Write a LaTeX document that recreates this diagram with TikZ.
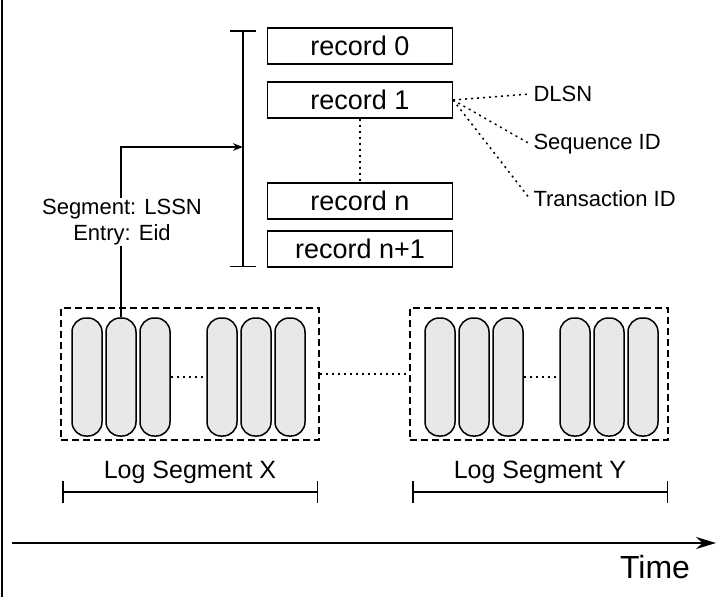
\documentclass[tikz,border=0pt]{standalone}
\usepackage{fontspec}
\setmainfont{Liberation Sans}
\usetikzlibrary{arrows.meta,positioning}
\tikzset{
  rec/.style={draw, line width=1.2pt, minimum width=185pt, minimum height=36pt, inner sep=0pt, font=\fontsize{27}{30}\selectfont},
  capsule/.style={draw, line width=1.5pt, fill=black!9, rounded corners=14pt, minimum width=30pt, minimum height=118pt, inner sep=0pt},
  seg/.style={draw, line width=1.5pt, dash pattern=on 7pt off 4pt},
  lbl/.style={font=\fontsize{22}{26}\selectfont},
  dots/.style={line width=1.5pt, dash pattern=on 2pt off 4pt},
  bar/.style={line width=1.5pt, {Bar[width=22pt]}-{Bar[width=22pt]}},
}
\begin{document}
\begin{tikzpicture}[x=1pt,y=-1pt]
  \useasboundingbox (0,0) rectangle (720,597);
  \draw[line width=1.5pt] (2,0) -- (2,597);
  % records
  \node[rec] (r0) at (360,46) {record 0};
  \node[rec] (r1) at (360,100) {record 1};
  \node[rec] (rn) at (360,201) {record n};
  \node[rec] (rn1) at (360,249) {record n+1};
  \draw[dots] (r1.south) -- (rn.north);
  % bracket
  \coordinate (bt) at (243,30);
  \coordinate (bb) at (243,267);
  \draw[bar, {Bar[width=26pt]}-{Bar[width=26pt]}] (bt) -- (bb);
  \coordinate (ba) at (243,147);
  % fields
  \node[lbl, anchor=west] (dlsn) at (530,94) {DLSN};
  \node[lbl, anchor=west] (sid) at (530,144) {Sequence ID};
  \node[lbl, anchor=west] (tid) at (530,199) {Transaction ID};
  \draw[dots] (r1.east) -- (dlsn.west);
  \draw[dots] (r1.east) -- (sid.west);
  \draw[dots] (r1.east) -- (tid.west);
  % segments
  \node[seg, minimum width=258pt, minimum height=132pt] (sx) at (190,374) {};
  \node[seg, minimum width=258pt, minimum height=132pt] (sy) at (539,374) {};
  \foreach \n/\x in {a/87,b/121,c/155,d/222,e/256,f/290,g/440,h/474,i/508,j/575,k/609,l/643}
    \node[capsule] (c\n) at (\x,377) {};
  \draw[dots] (cc.east) -- (cd.west);
  \draw[dots] (ci.east) -- (cj.west);
  \draw[dots] (sx.east) -- (sy.west);
  % pointer
  \draw[line width=1.5pt, -{Stealth[length=10pt]}] (cb.north) |- (ba);
  \node[lbl, fill=white, align=center, inner sep=1pt] (ptr) at (122,222) {Segment: LSSN\\Entry: Eid};
  % segment labels
  \node[font=\fontsize{25}{28}\selectfont] (lx) at (190,472) {Log Segment X};
  \node[font=\fontsize{25}{28}\selectfont] (ly) at (540,472) {Log Segment Y};
  \draw[bar] (62,492) -- (318,492);
  \draw[bar] (412,492) -- (668,492);
  % time
  \coordinate (t0) at (12,543);
  \coordinate (t1) at (716,543);
  \draw[line width=2pt, -{Stealth[length=20pt,width=12pt]}] (t0) -- (t1);
  \node[font=\fontsize{32}{34}\selectfont] (time) at (655,567) {Time};
\end{tikzpicture}
\end{document}
